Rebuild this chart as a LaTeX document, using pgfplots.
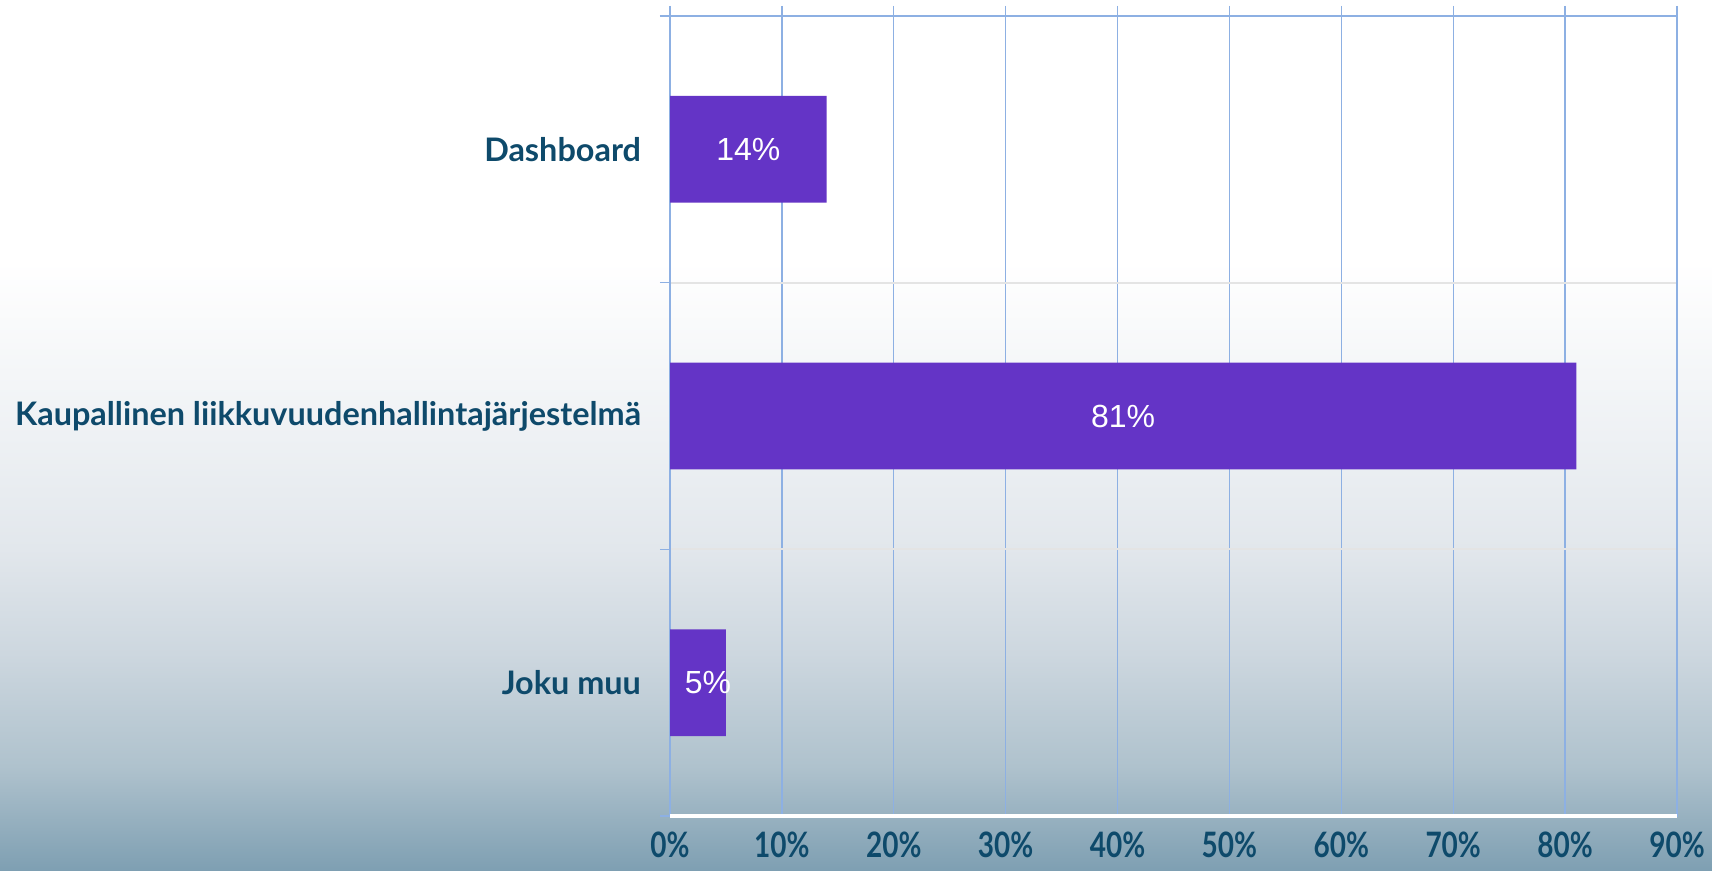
\documentclass[border=0pt]{standalone}
\usepackage{pgfplots}
\pgfplotsset{compat=1.18}
\usepackage{fontspec}
\setmainfont{Liberation Sans}
\newfontfamily\catfont{Lato}
\newfontfamily\tickfont{Lato}[FakeStretch=0.8]
\definecolor{textc}{HTML}{0E4A6B}
\definecolor{barc}{HTML}{6434C6}
\definecolor{gridblue}{HTML}{8DB0E3}
\definecolor{sepgray}{HTML}{E4E4E4}
\definecolor{bgA}{HTML}{EEF1F4}
\definecolor{bgB}{HTML}{E2E7EC}
\definecolor{bgC}{HTML}{CDD7DF}
\definecolor{bgD}{HTML}{AFC2CD}
\definecolor{bgE}{HTML}{7E9FB2}
\pgfdeclareverticalshading{bgshade}{100bp}{color(0bp)=(bgE); color(25bp)=(bgE); color(31bp)=(bgD); color(37.5bp)=(bgC); color(43.5bp)=(bgB); color(50bp)=(bgA); color(60bp)=(white); color(75bp)=(white); color(100bp)=(white)}
\begin{document}
\begin{tikzpicture}
\useasboundingbox (0,0) rectangle (856pt,435.5pt);
\shade[shading=bgshade] (0,0) rectangle (856pt,435.5pt);
\begin{axis}[
  at={(335pt,27.5pt)}, anchor=south west,
  scale only axis, width=503.5pt, height=400pt,
  xmin=0, xmax=90, ymin=-0.5, ymax=2.5, y dir=reverse,
  xtick={0,10,...,90},
  xticklabels={0\%,10\%,20\%,30\%,40\%,50\%,60\%,70\%,80\%,90\%},
  xtick pos=right, xticklabel pos=left,
  tick align=outside, major tick length=5pt,
  every tick/.style={gridblue, line width=0.7pt},
  xmajorgrids, x grid style={gridblue, line width=0.7pt},
  ytick={-0.5,0.5,1.5,2.5}, yticklabels={}, ytick pos=left,
  ymajorgrids, y grid style={sepgray, line width=1.1pt},
  extra y ticks={0,1,2},
  extra y tick labels={Dashboard,{Kaupallinen liikkuvuudenhallintajärjestelmä},Joku muu},
  extra y tick style={major tick length=0pt, grid=none,
     yticklabel style={font=\catfont\bfseries\fontsize{16.2}{19}\selectfont, text=textc, xshift=-11pt}},
  xticklabel style={font=\tickfont\bfseries\fontsize{17.5}{20}\selectfont, text=textc, yshift=-2pt,
     inner sep=1pt, /pgf/number format/assume math mode=true},
  axis line style={gridblue, line width=0.7pt},
  clip=false,
]
\addplot[xbar, bar width=0.4, bar shift=0pt, fill=barc, draw=none]
  coordinates {(14,0) (81,1) (5,2)};
\addplot[only marks, mark=none, nodes near coords, point meta=explicit symbolic,
  nodes near coords style={anchor=center, text=white, font=\fontsize{16}{19}\selectfont}]
  coordinates {(7,0) [14\%] (40.5,1) [81\%] (3.4,2) [5\%]};
\draw[white, line width=2pt] (axis cs:0,2.5) -- (axis cs:90,2.5);
\end{axis}
\end{tikzpicture}
\end{document}
